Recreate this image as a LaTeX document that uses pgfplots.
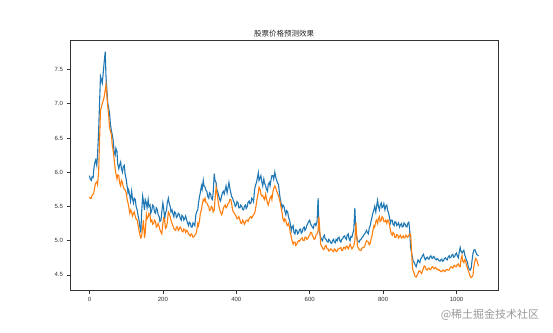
\documentclass[border=0pt]{standalone}
\usepackage{pgfplots}
\pgfplotsset{compat=1.18}
\usepackage{pgfplotstable}
\usepackage{fontspec}
\setmainfont{Liberation Sans}
\newfontfamily\cjk{Noto Sans CJK SC}
\definecolor{mblue}{HTML}{1F77B4}
\definecolor{morange}{HTML}{FF7F0E}
\pgfplotstableread{
x b o
0 5.95 5.64
2 5.90 5.62
5 5.88 5.62
7 5.93 5.66
10 5.92 5.68
12 6.05 5.70
15 6.15 5.80
17 6.18 5.84
20 6.10 5.86
22 6.25 5.82
25 6.60 6.00
30 7.40 6.90
35 7.30 7.00
40 7.60 7.10
43 7.76 7.20
45 7.40 7.28
50 7.00 6.95
52 6.95 6.85
55 6.85 6.65
57 6.70 6.60
60 6.60 6.55
62 6.55 6.40
65 6.45 6.30
67 6.30 6.20
70 6.25 6.05
72 6.35 5.98
75 6.30 5.90
77 6.12 5.96
80 6.05 5.95
82 6.10 5.85
85 6.15 5.80
87 6.05 5.88
90 6.00 5.85
92 6.08 5.78
95 6.10 5.75
97 5.98 5.74
100 5.90 5.70
102 5.82 5.62
105 5.70 5.55
107 5.74 5.50
110 5.65 5.40
112 5.58 5.45
115 5.72 5.42
117 5.62 5.36
120 5.55 5.40
122 5.62 5.42
125 5.60 5.35
127 5.50 5.32
130 5.45 5.30
132 5.38 5.24
135 5.30 5.15
137 5.22 5.10
140 5.12 5.04
142 5.40 5.06
145 5.65 5.20
147 5.58 5.30
150 5.45 5.04
152 5.60 5.12
155 5.55 5.38
157 5.48 5.32
160 5.60 5.35
162 5.50 5.40
165 5.52 5.37
167 5.40 5.28
170 5.45 5.30
172 5.52 5.24
175 5.50 5.25
177 5.42 5.30
180 5.40 5.28
182 5.48 5.20
185 5.45 5.22
187 5.38 5.25
190 5.35 5.20
192 5.28 5.16
195 5.30 5.12
197 5.42 5.10
200 5.55 5.25
202 5.48 5.33
205 5.32 5.30
207 5.40 5.18
210 5.45 5.20
212 5.55 5.26
215 5.62 5.42
217 5.55 5.40
220 5.50 5.35
222 5.42 5.30
225 5.45 5.25
227 5.40 5.22
230 5.35 5.18
232 5.42 5.16
235 5.40 5.15
237 5.34 5.20
240 5.36 5.20
242 5.40 5.15
245 5.38 5.17
247 5.33 5.20
250 5.30 5.18
252 5.37 5.14
255 5.35 5.13
257 5.30 5.17
260 5.33 5.16
262 5.36 5.12
265 5.30 5.15
267 5.26 5.14
270 5.22 5.10
272 5.27 5.08
275 5.25 5.07
277 5.20 5.10
280 5.20 5.08
282 5.26 5.05
285 5.24 5.06
287 5.22 5.08
290 5.38 5.10
292 5.42 5.14
295 5.45 5.25
297 5.55 5.22
300 5.65 5.30
302 5.70 5.40
305 5.80 5.45
307 5.75 5.52
310 5.88 5.60
312 5.80 5.58
315 5.78 5.62
317 5.74 5.56
320 5.72 5.55
322 5.65 5.52
325 5.62 5.50
327 5.70 5.44
330 5.68 5.45
332 5.62 5.50
335 5.60 5.48
337 5.70 5.42
340 5.98 5.45
342 5.88 5.60
345 5.85 5.78
347 5.75 5.72
350 5.70 5.60
352 5.66 5.52
355 5.60 5.45
357 5.58 5.42
360 5.65 5.38
362 5.70 5.40
365 5.72 5.48
367 5.68 5.50
370 5.75 5.52
372 5.80 5.48
375 5.70 5.50
377 5.76 5.54
380 5.85 5.55
382 5.78 5.60
385 5.70 5.60
387 5.65 5.55
390 5.62 5.45
392 5.58 5.42
395 5.55 5.40
397 5.50 5.38
400 5.52 5.35
402 5.57 5.32
405 5.55 5.33
407 5.48 5.35
410 5.48 5.30
412 5.52 5.26
415 5.50 5.25
417 5.46 5.30
420 5.45 5.28
422 5.50 5.24
425 5.52 5.27
427 5.47 5.30
430 5.50 5.30
432 5.56 5.28
435 5.58 5.32
437 5.54 5.34
440 5.55 5.35
442 5.62 5.33
445 5.60 5.36
447 5.57 5.38
450 5.75 5.40
452 5.80 5.45
455 5.85 5.55
457 5.90 5.62
460 5.99 5.70
462 5.88 5.78
465 5.92 5.75
467 5.95 5.68
470 5.85 5.65
472 5.80 5.66
475 5.90 5.62
477 5.84 5.60
480 5.80 5.68
482 5.75 5.62
485 5.72 5.55
487 5.82 5.52
490 5.85 5.58
492 5.80 5.62
495 5.90 5.65
497 5.95 5.60
500 5.95 5.72
502 5.90 5.76
505 6.00 5.80
507 5.94 5.78
510 5.88 5.72
512 5.85 5.70
515 5.82 5.65
517 5.72 5.62
520 5.60 5.55
522 5.55 5.48
525 5.48 5.40
527 5.52 5.32
530 5.50 5.28
532 5.44 5.32
535 5.38 5.30
537 5.44 5.24
540 5.42 5.22
542 5.35 5.25
545 5.30 5.20
547 5.25 5.12
550 5.15 5.05
552 5.20 5.00
555 5.22 4.95
557 5.12 4.98
560 5.10 4.98
562 5.16 4.93
565 5.15 4.95
567 5.10 4.98
570 5.12 5.00
572 5.16 4.99
575 5.17 5.02
577 5.11 5.03
580 5.13 5.04
582 5.18 5.00
585 5.20 5.00
587 5.15 5.05
590 5.18 5.05
592 5.22 5.02
595 5.25 5.03
597 5.28 5.06
600 5.30 5.08
602 5.25 5.12
605 5.22 5.12
607 5.20 5.08
610 5.18 5.05
612 5.24 5.02
615 5.25 5.03
617 5.22 5.08
620 5.28 5.10
623 5.62 5.15
625 5.15 5.35
630 5.05 4.95
632 5.02 4.92
635 5.00 4.90
637 5.05 4.87
640 5.08 4.88
642 5.03 4.92
645 5.02 4.93
647 4.99 4.88
650 4.98 4.88
652 5.02 4.85
655 5.00 4.86
657 4.97 4.88
660 4.96 4.87
662 5.00 4.85
665 5.02 4.84
667 4.98 4.88
670 4.97 4.87
672 5.02 4.84
675 5.00 4.85
677 5.04 4.88
680 5.05 4.88
682 5.00 4.89
685 4.98 4.90
687 5.02 4.86
690 5.03 4.86
692 5.06 4.90
695 5.07 4.90
697 5.04 4.88
700 5.02 4.92
702 5.08 4.92
705 5.10 4.88
707 5.03 4.90
710 5.00 4.95
712 5.06 4.92
715 5.05 4.88
717 5.10 4.90
720 5.15 4.92
723 5.48 5.00
726 5.10 5.26
730 5.01 4.92
732 4.99 4.90
735 4.98 4.87
737 5.01 4.86
740 5.02 4.86
742 5.04 4.89
745 5.06 4.90
747 5.08 4.90
750 5.10 4.92
752 5.12 4.96
755 5.15 5.00
757 5.12 4.99
760 5.10 4.98
762 5.18 4.94
765 5.22 4.96
767 5.28 5.02
770 5.35 5.08
772 5.40 5.14
775 5.45 5.22
777 5.50 5.20
780 5.42 5.28
782 5.50 5.30
785 5.59 5.25
787 5.50 5.32
790 5.45 5.35
792 5.52 5.28
795 5.55 5.30
797 5.48 5.35
800 5.50 5.33
802 5.54 5.28
805 5.45 5.28
807 5.50 5.30
810 5.52 5.25
812 5.45 5.30
815 5.40 5.30
817 5.35 5.24
820 5.26 5.15
822 5.30 5.10
825 5.30 5.08
827 5.24 5.12
830 5.22 5.10
832 5.28 5.05
835 5.27 5.05
837 5.22 5.09
840 5.24 5.08
842 5.26 5.04
845 5.20 5.06
847 5.23 5.08
850 5.25 5.04
852 5.20 5.05
855 5.21 5.07
857 5.26 5.04
860 5.24 5.05
862 5.21 5.08
865 5.20 5.06
867 5.25 5.05
870 5.27 5.08
872 5.18 5.10
875 4.90 5.10
880 4.75 4.60
882 4.70 4.56
885 4.68 4.52
887 4.65 4.48
890 4.62 4.47
892 4.66 4.49
895 4.72 4.52
897 4.70 4.55
900 4.68 4.56
902 4.73 4.54
905 4.75 4.52
907 4.78 4.56
910 4.80 4.60
912 4.76 4.63
915 4.72 4.62
917 4.74 4.58
920 4.76 4.57
922 4.74 4.59
925 4.73 4.60
927 4.76 4.58
930 4.78 4.58
932 4.75 4.61
935 4.74 4.62
937 4.77 4.60
940 4.76 4.59
942 4.73 4.61
945 4.72 4.60
947 4.74 4.58
950 4.73 4.57
952 4.71 4.58
955 4.70 4.56
957 4.72 4.55
960 4.73 4.55
962 4.70 4.57
965 4.71 4.57
967 4.74 4.55
970 4.75 4.56
972 4.73 4.58
975 4.72 4.58
977 4.76 4.57
980 4.78 4.57
982 4.75 4.60
985 4.76 4.62
987 4.79 4.61
990 4.80 4.60
992 4.76 4.63
995 4.77 4.64
997 4.80 4.62
1000 4.82 4.62
1002 4.78 4.65
1005 4.75 4.66
1007 4.82 4.63
1010 4.90 4.62
1012 4.85 4.72
1015 4.82 4.78
1017 4.84 4.70
1020 4.86 4.68
1022 4.80 4.72
1025 4.75 4.70
1027 4.72 4.64
1030 4.68 4.60
1032 4.62 4.56
1035 4.58 4.52
1037 4.57 4.48
1040 4.60 4.46
1042 4.70 4.47
1045 4.82 4.50
1047 4.86 4.62
1050 4.87 4.70
1052 4.84 4.74
1055 4.80 4.72
1057 4.79 4.68
1060 4.78 4.63
}\data
\begin{document}
\begin{tikzpicture}[x=1pt,y=1pt]
\useasboundingbox (0,0) rectangle (553,332);
\begin{axis}[
  at={(70pt,42pt)}, anchor=south west,
  width=428pt, height=250pt, scale only axis,
  xmin=-53, xmax=1113, ymin=4.28, ymax=7.93,
  xtick={0,200,400,600,800,1000},
  ytick={4.5,5.0,5.5,6.0,6.5,7.0,7.5},
  tick align=outside, major tick length=3.5pt,
  tick style={black!80, line width=0.6pt},
  axis line style={black!80, line width=0.6pt},
  xtick pos=bottom, ytick pos=left,
  tick label style={font=\fontsize{6}{7}\selectfont, text=black!80},
  /pgf/number format/assume math mode=true,
  /pgf/number format/1000 sep={},
  yticklabel style={/pgf/number format/fixed, /pgf/number format/fixed zerofill, /pgf/number format/precision=1},
  scaled ticks=false,
]
\addplot[mblue, line width=1.1pt] table[x=x,y=b]{\data};
\addplot[morange, line width=1.1pt] table[x=x,y=o]{\data};
\end{axis}
\node[font=\cjk\fontsize{7.5}{9}\selectfont, text=black!85] at (284,298) {股票价格预测效果};
\node[font=\cjk\fontsize{11}{13}\selectfont, text=black!40] at (490,17) {@稀土掘金技术社区};
\end{tikzpicture}
\end{document}
